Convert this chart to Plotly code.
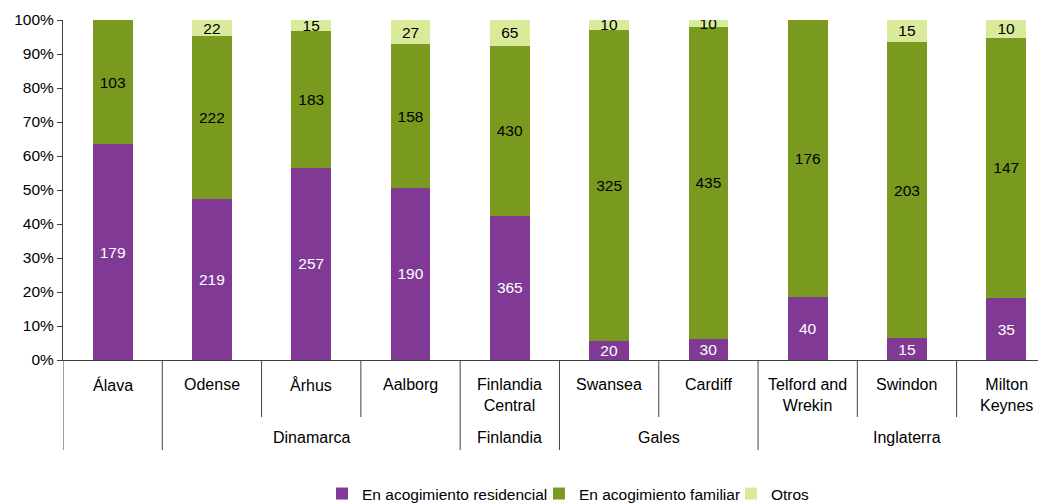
import plotly.graph_objects as go

cities = ["Álava", "Odense", "Århus", "Aalborg", "Finlandia<br>Central", "Swansea",
          "Cardiff", "Telford and<br>Wrekin", "Swindon", "Milton<br>Keynes"]
countries = ["", "Dinamarca", "Dinamarca", "Dinamarca", "Finlandia", "Gales", "Gales",
             "Inglaterra", "Inglaterra", "Inglaterra"]
residencial = [179, 219, 257, 190, 365, 20, 30, 40, 15, 35]
familiar = [103, 222, 183, 158, 430, 325, 435, 176, 203, 147]
otros = [0, 22, 15, 27, 65, 10, 10, 0, 15, 10]
pct_ticks = list(range(0, 101, 10))

series = [
    ("En acogimiento residencial", residencial, "#803A96", "white"),
    ("En acogimiento familiar", familiar, "#7A9A1F", "black"),
    ("Otros", otros, "#D9EA9B", "black"),
]
legend_ids = ["legend", "legend2", "legend3"]
legend_x = [0.2635, 0.4842, 0.6795]

FONT = "Arial, Liberation Sans, sans-serif"
AXC = "#404040"
FS = 16
xs = list(range(len(cities)))
fig = go.Figure()
for (name, vals, col, tcol), lid in zip(series, legend_ids):
    fig.add_trace(go.Bar(
        x=xs, y=vals, name=name, marker=dict(color=col, line=dict(width=0)),
        text=[str(v) if v else "" for v in vals], textposition="inside",
        insidetextanchor="middle", textangle=0, legend=lid,
        textfont=dict(color=tcol, size=15.5, family=FONT), width=0.4,
    ))

shapes = []
annotations = []
for i, c in enumerate(cities):
    annotations.append(dict(x=i, y=-0.041, xref="x", yref="paper", text=c, showarrow=False,
                            yanchor="top", font=dict(size=FS, family=FONT, color="black")))
for b in range(len(cities)):
    long_line = b == 0 or countries[b - 1] != countries[b]
    shapes.append(dict(type="line", xref="x", yref="paper", x0=b - 0.5, x1=b - 0.5,
                       y0=0, y1=-0.2647 if long_line else -0.1676,
                       line=dict(color=AXC, width=1)))
groups = []
for i, g in enumerate(countries):
    if groups and groups[-1][0] == g:
        groups[-1][1].append(i)
    else:
        groups.append([g, [i]])
for g, idx in groups:
    if g:
        annotations.append(dict(x=sum(idx) / len(idx), y=-0.229, xref="x", yref="paper", text=g,
                                showarrow=False, yanchor="middle",
                                font=dict(size=FS, family=FONT, color="black")))

legends = {}
for lid, lx in zip(legend_ids, legend_x):
    legends[lid] = dict(orientation="h", x=lx, xanchor="left", y=-0.394, yanchor="middle",
                        font=dict(size=15.5, family=FONT), itemwidth=30,
                        bgcolor="rgba(0,0,0,0)", borderwidth=0)

fig.update_layout(
    barmode="stack", barnorm="percent",
    width=1038, height=496,
    margin=dict(l=55, r=0, t=12, b=144, autoexpand=False),
    plot_bgcolor="white", paper_bgcolor="white",
    font=dict(family=FONT, size=FS, color="black"),
    uniformtext=dict(minsize=15, mode="show"),
    showlegend=True,
    xaxis=dict(range=[-0.5, 9.4], showticklabels=False, showgrid=False, zeroline=False,
               showline=True, linecolor=AXC, linewidth=1, ticks=""),
    yaxis=dict(range=[0, 100], tickmode="array", tickvals=pct_ticks,
               ticktext=[f"{v}%" for v in pct_ticks],
               showgrid=False, zeroline=False, showline=True, linecolor=AXC, linewidth=1,
               ticks="outside", ticklen=5, tickcolor=AXC, tickfont=dict(size=15.5, family=FONT)),
    shapes=shapes, annotations=annotations,
    **legends,
)
fig.write_html("out.html")
